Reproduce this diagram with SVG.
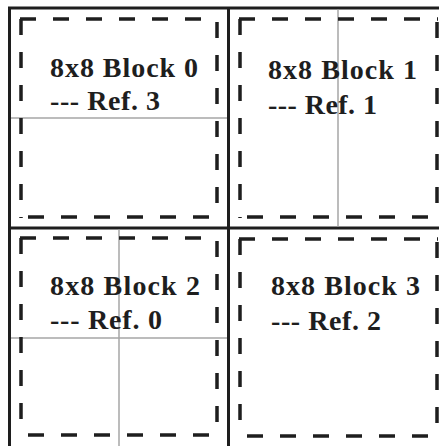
<svg xmlns="http://www.w3.org/2000/svg" width="439" height="446" viewBox="0 0 439 446">
  <style>
    .frame { stroke: #1e1e1e; stroke-width: 3; fill: none; }
    .grid { stroke: #a6a6a6; stroke-width: 1.5; fill: none; }
    .dash { stroke: #1e1e1e; stroke-width: 3.5; fill: none; stroke-dasharray: 16 17; }
    .lbl { font-family: "Liberation Serif", "Times New Roman", serif; font-weight: bold; font-size: 28px; fill: #1e1e1e; }
  </style>
  <rect width="439" height="446" fill="#ffffff"/>
  <g id="frame">
    <line class="frame" x1="8" y1="8" x2="439" y2="8"/>
    <line class="frame" x1="9.5" y1="8" x2="9.5" y2="446"/>
    <line class="frame" x1="228.5" y1="8" x2="228.5" y2="446"/>
    <line class="frame" x1="9" y1="228" x2="439" y2="228"/>
  </g>
  <g id="gridlines">
    <line class="grid" x1="11" y1="118" x2="227" y2="118"/>
    <line class="grid" x1="338" y1="9.5" x2="338" y2="226.5"/>
    <line class="grid" x1="119" y1="229.5" x2="119" y2="446"/>
    <line class="grid" x1="11" y1="338" x2="227" y2="338"/>
  </g>
  <g id="block0">
    <line class="dash" x1="20" y1="19" x2="218" y2="19"/>
    <line class="dash" x1="21" y1="19" x2="21" y2="218"/>
    <line class="dash" x1="217" y1="22" x2="217" y2="218"/>
    <line class="dash" x1="28" y1="217" x2="218" y2="217"/>
    <text class="lbl" x="50" y="77" textLength="148" lengthAdjust="spacing">8x8 Block 0</text>
    <text class="lbl" x="50" y="110" textLength="110" lengthAdjust="spacing">--- Ref. 3</text>
  </g>
  <g id="block1">
    <line class="dash" x1="239" y1="19" x2="438" y2="19"/>
    <line class="dash" x1="240" y1="19" x2="240" y2="218"/>
    <line class="dash" x1="437" y1="22" x2="437" y2="218"/>
    <line class="dash" x1="247" y1="217" x2="438" y2="217"/>
    <text class="lbl" x="268" y="79" textLength="149" lengthAdjust="spacing">8x8 Block 1</text>
    <text class="lbl" x="268" y="114" textLength="109" lengthAdjust="spacing">--- Ref. 1</text>
  </g>
  <g id="block2">
    <line class="dash" x1="20" y1="238" x2="218" y2="238"/>
    <line class="dash" x1="21" y1="238" x2="21" y2="436"/>
    <line class="dash" x1="217" y1="241" x2="217" y2="436"/>
    <line class="dash" x1="28" y1="435" x2="218" y2="435"/>
    <text class="lbl" x="50" y="295" textLength="150" lengthAdjust="spacing">8x8 Block 2</text>
    <text class="lbl" x="50" y="329" textLength="112" lengthAdjust="spacing">--- Ref. 0</text>
  </g>
  <g id="block3">
    <line class="dash" x1="239" y1="239" x2="438" y2="239"/>
    <line class="dash" x1="240" y1="239" x2="240" y2="437"/>
    <line class="dash" x1="437" y1="242" x2="437" y2="437"/>
    <line class="dash" x1="247" y1="436" x2="438" y2="436"/>
    <text class="lbl" x="271" y="295" textLength="149" lengthAdjust="spacing">8x8 Block 3</text>
    <text class="lbl" x="271" y="330" textLength="110" lengthAdjust="spacing">--- Ref. 2</text>
  </g>
</svg>
